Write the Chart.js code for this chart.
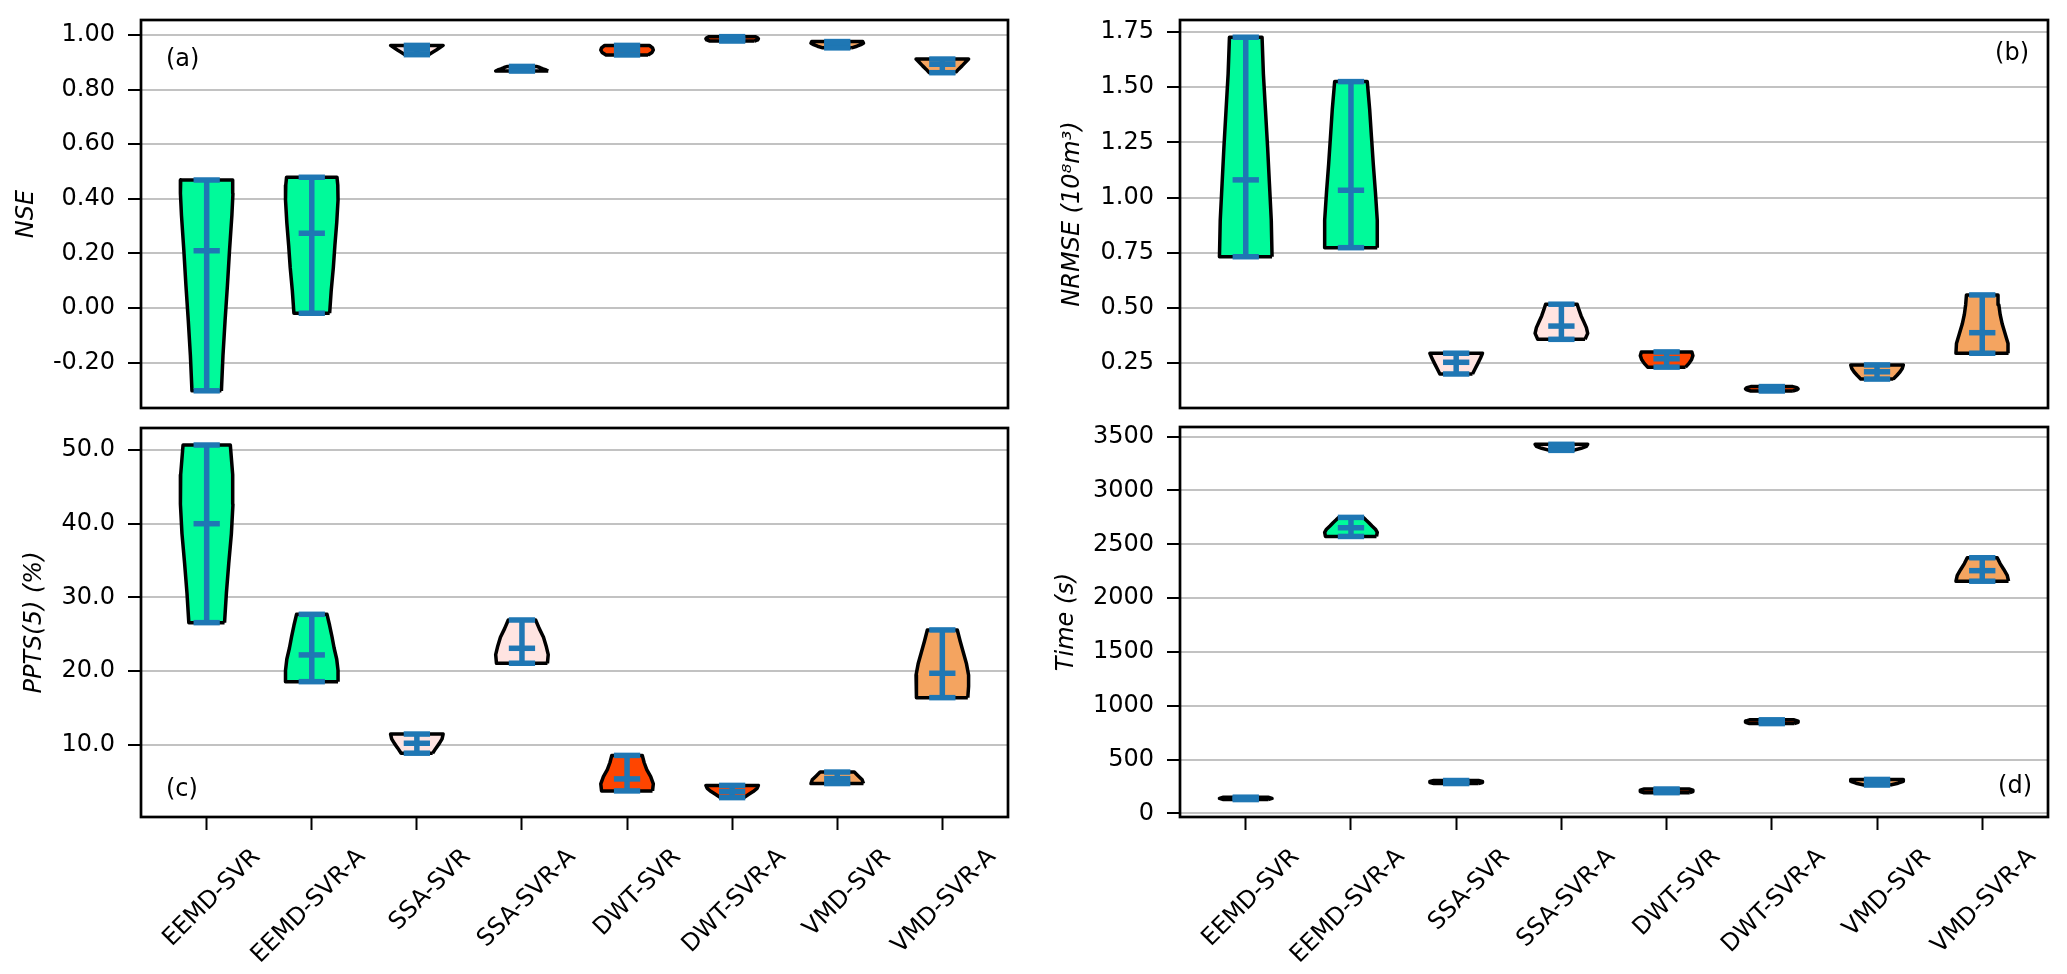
<!DOCTYPE html>
<html>
<head>
<meta charset="utf-8">
<script src="https://cdn.jsdelivr.net/npm/chart.js@4.4.1/dist/chart.umd.min.js"></script>
<style>
html,body{margin:0;padding:0;background:#fff;}
body{width:2067px;height:974px;position:relative;overflow:hidden;}
.box{position:absolute;}
canvas{display:block;}
</style>
</head>
<body>
<div class="box" style="left:0;top:0;"><canvas id="cA" width="1030" height="420" style="width:1030px;height:420px"></canvas></div>
<div class="box" style="left:1040px;top:0;"><canvas id="cB" width="1027" height="420" style="width:1027px;height:420px"></canvas></div>
<div class="box" style="left:0;top:420px;"><canvas id="cC" width="1030" height="554" style="width:1030px;height:554px"></canvas></div>
<div class="box" style="left:1040px;top:420px;"><canvas id="cD" width="1027" height="554" style="width:1027px;height:554px"></canvas></div>
<script>
// ---------------- data ----------------
const models = ['EEMD-SVR','EEMD-SVR-A','SSA-SVR','SSA-SVR-A','DWT-SVR','DWT-SVR-A','VMD-SVR','VMD-SVR-A'];

// (a) NSE
const nseMin    = [-0.303, -0.019, 0.928, 0.868, 0.927, 0.978, 0.953, 0.862];
const nseMedian = [ 0.210,  0.274, 0.948, 0.874, 0.945, 0.985, 0.965, 0.893];
const nseMax    = [ 0.469,  0.479, 0.962, 0.885, 0.962, 0.994, 0.976, 0.912];
// density profiles: [value, relative width]
const nseShape = [
  [[-0.303,0.56],[-0.174,0.62],[-0.046,0.70],[0.083,0.79],[0.212,0.87],[0.340,0.96],[0.420,1.0],[0.469,0.99]],
  [[-0.019,0.68],[0.064,0.74],[0.147,0.82],[0.230,0.88],[0.313,0.95],[0.396,1.0],[0.450,0.99],[0.479,0.96]],
  [[0.928,0.45],[0.937,0.60],[0.945,0.74],[0.954,0.88],[0.962,1.0]],
  [[0.868,1.0],[0.872,0.92],[0.876,0.80],[0.881,0.68],[0.885,0.55]],
  [[0.927,0.80],[0.936,0.95],[0.945,1.0],[0.953,0.97],[0.962,0.85]],
  [[0.978,0.85],[0.982,0.97],[0.986,1.0],[0.990,0.97],[0.994,0.88]],
  [[0.953,0.55],[0.959,0.75],[0.965,0.90],[0.970,1.0],[0.976,0.97]],
  [[0.862,0.50],[0.875,0.62],[0.887,0.75],[0.900,0.88],[0.912,1.0]]
];
const nseTicks = [-0.2, 0.0, 0.2, 0.4, 0.6, 0.8, 1.0];

// (b) NRMSE
const nrmseMin    = [0.732, 0.773, 0.201, 0.358, 0.232, 0.124, 0.178, 0.295];
const nrmseMedian = [1.080, 1.033, 0.254, 0.418, 0.270, 0.134, 0.211, 0.388];
const nrmseMax    = [1.726, 1.525, 0.295, 0.517, 0.301, 0.144, 0.242, 0.559];
const nrmseShape = [
  [[0.732,1.0],[0.898,0.97],[1.063,0.90],[1.229,0.83],[1.395,0.75],[1.560,0.67],[1.726,0.62]],
  [[0.773,1.0],[0.898,1.0],[1.024,0.93],[1.149,0.85],[1.274,0.78],[1.400,0.71],[1.525,0.62]],
  [[0.201,0.62],[0.225,0.72],[0.248,0.82],[0.272,0.92],[0.295,1.0]],
  [[0.358,0.90],[0.385,1.0],[0.411,0.95],[0.438,0.85],[0.464,0.75],[0.491,0.67],[0.517,0.60]],
  [[0.232,0.72],[0.249,0.85],[0.267,0.95],[0.284,1.0],[0.301,0.96]],
  [[0.124,0.80],[0.129,0.95],[0.134,1.0],[0.139,0.95],[0.144,0.80]],
  [[0.178,0.62],[0.194,0.75],[0.210,0.87],[0.226,0.96],[0.242,1.0]],
  [[0.295,1.0],[0.339,0.98],[0.383,0.87],[0.427,0.76],[0.471,0.68],[0.515,0.63],[0.559,0.60]]
];
const nrmseTicks = [0.25, 0.50, 0.75, 1.00, 1.25, 1.50, 1.75];

// (c) PPTS(5)
const pptsMin    = [26.57, 18.56,  8.85, 21.06, 3.73, 2.82, 4.73, 16.39];
const pptsMedian = [40.00, 22.19, 10.20, 23.09, 5.36, 3.64, 5.40, 19.70];
const pptsMax    = [50.68, 27.70, 11.45, 26.93, 8.55, 4.48, 6.29, 25.58];
const pptsShape = [
  [[26.57,0.68],[30.59,0.75],[34.60,0.84],[38.62,0.94],[42.64,1.0],[46.66,0.99],[50.68,0.90]],
  [[18.56,1.0],[20.08,1.0],[21.60,0.95],[23.13,0.85],[24.65,0.77],[26.18,0.68],[27.70,0.58]],
  [[8.85,0.60],[9.50,0.72],[10.15,0.85],[10.80,0.96],[11.45,1.0]],
  [[21.06,0.97],[22.23,1.0],[23.41,0.92],[24.58,0.82],[25.76,0.66],[26.93,0.52]],
  [[3.73,0.97],[4.69,1.0],[5.66,0.90],[6.62,0.75],[7.59,0.65],[8.55,0.58]],
  [[2.82,0.45],[3.24,0.62],[3.65,0.80],[4.07,0.95],[4.48,1.0]],
  [[4.73,1.0],[5.25,0.95],[5.77,0.80],[6.29,0.65]],
  [[16.39,0.97],[17.92,1.0],[19.45,1.0],[20.98,0.92],[22.51,0.80],[24.05,0.68],[25.58,0.57]]
];
const pptsTicks = [10, 20, 30, 40, 50];

// (d) Time (s)
const timeMin    = [128, 2573, 277, 3373, 192, 834, 263, 2157];
const timeMedian = [138, 2654, 291, 3400, 209, 852, 290, 2255];
const timeMax    = [150, 2750, 305, 3429, 226, 869, 315, 2375];
const timeShape = [
  [[128,0.85],[139,1.0],[150,0.85]],
  [[2573,0.97],[2610,1.0],[2640,0.93],[2670,0.80],[2700,0.68],[2725,0.57],[2750,0.47]],
  [[277,0.85],[286,1.0],[296,1.0],[305,0.85]],
  [[3373,0.45],[3392,0.75],[3410,0.95],[3429,1.0]],
  [[192,0.88],[203,1.0],[215,1.0],[226,0.85]],
  [[834,0.85],[846,1.0],[857,1.0],[869,0.85]],
  [[263,0.50],[280,0.80],[298,1.0],[315,1.0]],
  [[2157,1.0],[2212,0.95],[2266,0.82],[2321,0.68],[2375,0.57]]
];
const timeTicks = [0, 500, 1000, 1500, 2000, 2500, 3000, 3500];

// ---------------- styles ----------------
const bodyColors = ['#00FA9A','#00FA9A','#FFE4E1','#FFE4E1','#FF4500','#FF4500','#F4A460','#F4A460'];
const LINE_BLUE = '#1f77b4';
const HALF = 0.25;   // half of violin width (widths = 0.5)
const CAP = 0.125;   // half cap length
const FONT = "'DejaVu Sans', sans-serif";
const FS = 24;

Chart.defaults.font.family = FONT;
Chart.defaults.font.size = FS;
Chart.defaults.color = '#000';

const framePlugin = {
  id: 'frameAndLetter',
  afterDraw(chart, args, opts) {
    const {ctx, chartArea: a} = chart;
    ctx.save();
    ctx.strokeStyle = '#000';
    ctx.lineWidth = 2.7;
    ctx.strokeRect(a.left, a.top, a.right - a.left, a.bottom - a.top);
    ctx.font = FS + 'px ' + FONT;
    ctx.fillStyle = '#000';
    ctx.textBaseline = 'middle';
    ctx.textAlign = opts.align;
    const x = opts.align === 'left' ? a.left + opts.dx : a.right - opts.dx;
    const y = opts.fromTop ? a.top + opts.dy : a.bottom - opts.dy;
    ctx.fillText(opts.text, x, y);
    ctx.restore();
  }
};

function makeChart(id, c) {
  const datasets = [];
  c.shapes.forEach((shape, i) => {
    const right = shape.map(([v, w]) => ({x: i + HALF * w, y: v}));
    const left = shape.slice().reverse().map(([v, w]) => ({x: i - HALF * w, y: v}));
    const pts = right.concat(left);
    pts.push({x: pts[0].x, y: pts[0].y});
    datasets.push({
      type: 'scatter', data: pts, showLine: true, fill: 'shape',
      backgroundColor: bodyColors[i], borderColor: '#000', borderWidth: 3.5,
      borderJoinStyle: 'round', pointRadius: 0, pointHoverRadius: 0, tension: 0, order: 2
    });
  });
  models.forEach((m, i) => {
    const segs = [
      [{x: i - CAP, y: c.mins[i]}, {x: i + CAP, y: c.mins[i]}],
      [{x: i - CAP, y: c.maxs[i]}, {x: i + CAP, y: c.maxs[i]}],
      [{x: i - CAP, y: c.meds[i]}, {x: i + CAP, y: c.meds[i]}],
      [{x: i, y: c.mins[i]}, {x: i, y: c.maxs[i]}]
    ];
    segs.forEach(s => datasets.push({
      type: 'scatter', data: s, showLine: true, fill: false,
      borderColor: LINE_BLUE, borderWidth: 5.5, pointRadius: 0, pointHoverRadius: 0, order: 1
    }));
  });

  return new Chart(document.getElementById(id), {
    type: 'scatter',
    data: {datasets},
    options: {
      responsive: false,
      animation: false,
      devicePixelRatio: 1,
      layout: {padding: c.pad},
      plugins: {
        legend: {display: false},
        tooltip: {enabled: false},
        frameAndLetter: c.letter
      },
      scales: {
        x: {
          type: 'linear', min: -0.625, max: 7.625, display: c.showX,
          afterBuildTicks: s => { s.ticks = models.map((_, i) => ({value: i})); },
          afterFit: s => {
            if (c.showX) s.height = 157;
            s.paddingLeft = 0; s.paddingRight = 0; s.paddingTop = 0; s.paddingBottom = 0;
          },
          border: {display: false},
          grid: {drawOnChartArea: false, drawTicks: true, tickLength: 13, tickColor: '#000', tickWidth: 2},
          ticks: {
            autoSkip: false, minRotation: 45, maxRotation: 45, padding: 13, labelOffset: 50,
            color: '#000', font: {size: FS}, callback: v => models[v]
          }
        },
        y: {
          type: 'linear', min: c.yMin, max: c.yMax,
          afterBuildTicks: s => { s.ticks = c.ticks.map(v => ({value: v})); },
          afterFit: s => {
            s.width = c.yW;
            s.paddingLeft = 0; s.paddingRight = 0; s.paddingTop = 0; s.paddingBottom = 0;
          },
          border: {display: false},
          grid: {color: '#c2c2c2', lineWidth: 2, tickLength: 13, tickColor: '#000', tickWidth: 2},
          ticks: {padding: 13, color: '#000', font: {size: FS}, callback: v => c.fmt(v)},
          title: {
            display: true, text: c.title, color: '#000',
            font: {size: FS, style: 'italic'}, padding: {top: c.titlePad, bottom: 0}
          }
        }
      }
    },
    plugins: [framePlugin]
  });
}

makeChart('cA', {
  shapes: nseShape, mins: nseMin, meds: nseMedian, maxs: nseMax,
  yMin: -0.366, yMax: 1.055, ticks: nseTicks, fmt: v => v.toFixed(2),
  title: 'NSE', titlePad: 12, yW: 141, showX: false,
  pad: {top: 20, right: 22, bottom: 12, left: 0},
  letter: {text: '(a)', align: 'left', dx: 25, dy: 40, fromTop: true}
});
makeChart('cB', {
  shapes: nrmseShape, mins: nrmseMin, meds: nrmseMedian, maxs: nrmseMax,
  yMin: 0.047, yMax: 1.804, ticks: nrmseTicks, fmt: v => v.toFixed(2),
  title: 'NRMSE (10⁸m³)', titlePad: 18, yW: 140, showX: false,
  pad: {top: 20, right: 19, bottom: 12, left: 0},
  letter: {text: '(b)', align: 'right', dx: 19, dy: 34, fromTop: true}
});
makeChart('cC', {
  shapes: pptsShape, mins: pptsMin, meds: pptsMedian, maxs: pptsMax,
  yMin: 0.19, yMax: 52.99, ticks: pptsTicks, fmt: v => v.toFixed(1),
  title: 'PPTS(5) (%)', titlePad: 20, yW: 141, showX: true,
  pad: {top: 8, right: 22, bottom: 0, left: 0},
  letter: {text: '(c)', align: 'left', dx: 25, dy: 27, fromTop: false}
});
makeChart('cD', {
  shapes: timeShape, mins: timeMin, meds: timeMedian, maxs: timeMax,
  yMin: -34, yMax: 3590, ticks: timeTicks, fmt: v => String(Math.round(v)),
  title: 'Time (s)', titlePad: 12, yW: 140, showX: true,
  pad: {top: 7, right: 19, bottom: 0, left: 0},
  letter: {text: '(d)', align: 'right', dx: 16, dy: 30, fromTop: false}
});
</script>
</body>
</html>
